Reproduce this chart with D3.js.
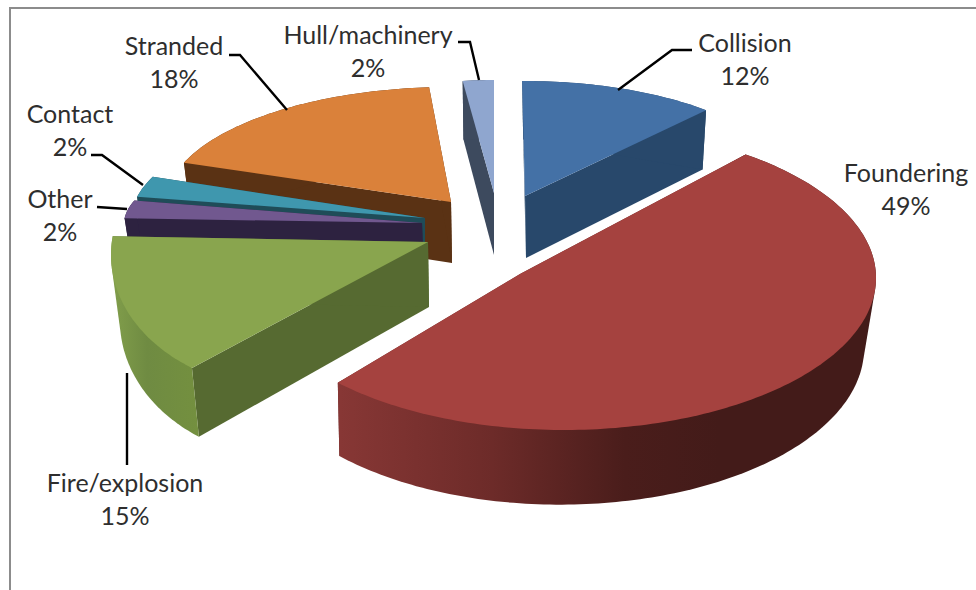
<!DOCTYPE html>
<html>
<head>
<meta charset="utf-8">
<script src="https://cdn.jsdelivr.net/npm/d3@7/dist/d3.min.js"></script>
<style>
  html, body { margin: 0; padding: 0; background: #fff; }
  svg { display: block; }
  text { font-family: Lato, "Open Sans", sans-serif; font-size: 25px; fill: #2e2e2e; text-anchor: middle; }
</style>
</head>
<body>
<svg id="chart" width="976" height="590"></svg>
<script>
// Casualty causes, clockwise from twelve o'clock
const causes = ["Collision", "Foundering", "Fire/explosion", "Other", "Contact", "Stranded", "Hull/machinery"];
const shares = [12, 49, 15, 2, 2, 18, 2];

const topColors  = ["#4471a6", "#a5423f", "#89a54e", "#71588f", "#3f97ae", "#da813a", "#8fa6cf"];
const wallColors = ["#28486b", "#6b2a28", "#566a31", "#2d2240", "#1f4c58", "#5a3214", "#3d4a5e"];

// Exploded 3-D placement of each slice: tip of the wedge, rim ellipse relative
// to the tip, angular correction for foreshortening, and extrusion offset.
const views = [
  { tip: [525, 196], rim: [0, 0],     rx: 272, ry: 115, shift: -0.6, stretch: 0.98,  drop: [1, 62] },
  { tip: [520, 274], rim: [44, 4],    rx: 312, ry: 152, shift: -7.6, stretch: 1.082, drop: [-3, 70] },
  { tip: [428, 242], rim: [-138, 13], rx: 179, ry: 135, shift: -6.4, stretch: 1.2,   drop: [1, 65] },
  { tip: [422, 223], rim: [2, 1],     rx: 300, ry: 90,  shift: 0,    stretch: 1.6,   drop: [2, 60] },
  { tip: [425, 218], rim: [-2, 2],    rx: 292, ry: 114, shift: 1,    stretch: 1.45,  drop: [0, 60] },
  { tip: [451, 202], rim: [-1, 3],    rx: 285, ry: 118, shift: 3,    stretch: 1,     drop: [1, 61] },
  { tip: [494, 193], rim: [0, 0],     rx: 250, ry: 113, shift: 0,    stretch: 1,     drop: [0, 62] }
];

// Floor of the extrusion is scaled about the wedge tip to suggest perspective
const floorScale = [0.975, 1.03];

// Back-to-front paint order, as indices into the arrays above
const paintOrder = [5, 6, 0, 4, 3, 2, 1];

// Label placement: centre x, first baseline
const labelSpots = [[745, 52], [906, 182], [125, 492], [60, 208], [70, 123], [174, 55], [368, 44]];
const labelLeading = 33;

// Leader lines from each label to its slice (Foundering has none)
const leaders = [
  [[692, 50], [672, 50], [618, 90]],
  [],
  [[127, 373], [127, 465]],
  [[97, 207], [127, 209]],
  [[91, 155], [102, 155], [143, 185]],
  [[229, 55], [240, 55], [287, 110]],
  [[458, 42], [470, 42], [479, 80]]
];

const svg = d3.select("#chart");
const defs = svg.append("defs");

function shadeGradient(id, x1, x2, stops) {
  const g = defs.append("linearGradient").attr("id", id)
    .attr("gradientUnits", "userSpaceOnUse")
    .attr("x1", x1).attr("x2", x2).attr("y1", 0).attr("y2", 0);
  stops.forEach(([o, c]) => g.append("stop").attr("offset", o).attr("stop-color", c));
  return `url(#${id})`;
}

// Curved outer walls carry a horizontal light falloff where they face the viewer
const rimFill = {
  1: shadeGradient("rimRed", 340, 720, [[0, "#873735"], [0.4, "#6d2b29"], [0.75, "#4a1d1b"], [1, "#431b19"]]),
  2: shadeGradient("rimGreen", 112, 200, [[0, "#819e4b"], [0.4, "#6f8b42"], [1, "#74903f"]])
};

// Frame of the chart area; only its top and left edges fall inside the page
svg.append("rect")
  .attr("x", 10).attr("y", 8).attr("width", 1000).attr("height", 640)
  .attr("fill", "#fff").attr("stroke", "#8c8c8c").attr("stroke-width", 2);

const arcs = d3.pie().sort(null).value(d => d)
  .startAngle(0).endAngle(2 * Math.PI)(shares);

const trace = d3.line();

function rimPoint(view, t, floor) {
  const sx = floor ? floorScale[0] : 1;
  const sy = floor ? floorScale[1] : 1;
  const ox = view.tip[0] + (floor ? view.drop[0] : 0);
  const oy = view.tip[1] + (floor ? view.drop[1] : 0);
  return [
    ox + sx * (view.rim[0] + view.rx * Math.sin(t)),
    oy + sy * (view.rim[1] - view.ry * Math.cos(t))
  ];
}

function rimAngles(view, arc) {
  const start = arc.startAngle + view.shift * Math.PI / 180;
  const end = start + (arc.endAngle - arc.startAngle) * view.stretch;
  const steps = Math.max(8, Math.ceil((end - start) / 0.02));
  return d3.range(steps + 1).map(i => start + (end - start) * i / steps);
}

paintOrder.forEach(i => {
  const view = views[i];
  const arc = arcs[i];
  const angles = rimAngles(view, arc);
  const topArc = angles.map(t => rimPoint(view, t, false));
  const floorArc = angles.map(t => rimPoint(view, t, true));
  const tip = view.tip;
  const floorTip = [tip[0] + view.drop[0], tip[1] + view.drop[1]];
  const g = svg.append("g").attr("class", "slice").attr("data-cause", causes[i]);

  // Flat cut faces
  [0, angles.length - 1].forEach(k => {
    g.append("path")
      .attr("d", trace([tip, topArc[k], floorArc[k], floorTip]) + "Z")
      .attr("fill", wallColors[i]);
  });

  // Curved outer wall: the hull of top and floor arcs gives the swept silhouette,
  // and the top face painted afterwards hides everything but the visible band
  g.append("path")
    .attr("d", trace(d3.polygonHull(topArc.concat(floorArc))) + "Z")
    .attr("fill", rimFill[i] || wallColors[i]);

  // Top face
  g.append("path")
    .attr("d", trace([tip].concat(topArc)) + "Z")
    .attr("fill", topColors[i]);
});

// Leaders
svg.append("g").selectAll("path")
  .data(leaders.filter(l => l.length))
  .join("path")
  .attr("d", d => trace(d))
  .attr("fill", "none").attr("stroke", "#000").attr("stroke-width", 2.4);

// Two-line labels: cause, then its share
const labels = svg.append("g").selectAll("text")
  .data(causes)
  .join("text")
  .attr("x", (d, i) => labelSpots[i][0])
  .attr("y", (d, i) => labelSpots[i][1]);
labels.append("tspan").text(d => d);
labels.append("tspan")
  .attr("x", (d, i) => labelSpots[i][0])
  .attr("dy", labelLeading)
  .text((d, i) => shares[i] + "%");
</script>
</body>
</html>
